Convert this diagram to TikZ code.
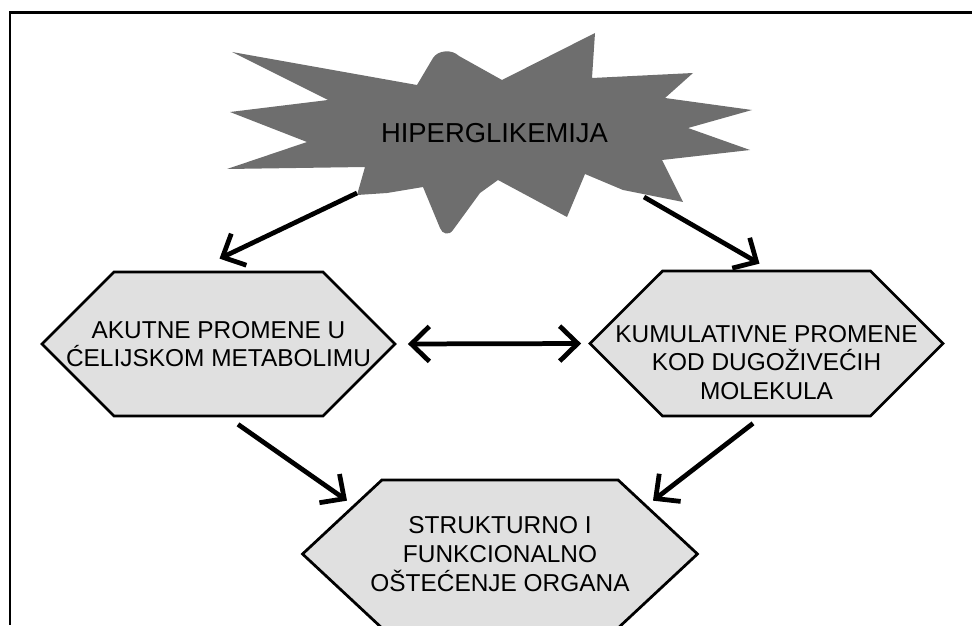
\documentclass[tikz,border=0pt]{standalone}
\usepackage{fontspec}
\setmainfont{Liberation Sans}
\usetikzlibrary{arrows.meta,positioning,shapes.symbols}
\definecolor{starfill}{gray}{0.43}
\definecolor{hexfill}{gray}{0.88}

\begin{document}
\begin{tikzpicture}[x=0.02cm, y=-0.02cm,
    >={Straight Barb[length=0.36cm,width=0.7cm]},
    every node/.style={font=\fontsize{13.9}{16.3}\selectfont},
    hexbox/.style={signal, signal to=west and east, draw, line width=0.055cm, fill=hexfill, inner sep=0pt},
    hextext/.style={align=center, inner sep=0pt},
    arr/.style={->, line width=0.095cm},
    burst/.style={fill=starfill}
  ]
  \useasboundingbox (0,0) rectangle (972,625);

  % outer frame (cut off on the right and at the bottom)
  \draw[line width=0.06cm] (972,13) -- (10,13) -- (10,625);

  % star burst behind the title
  \fill[burst] (232,52) -- (417,85) -- (433,58) .. controls (438,50) and (452,49) .. (459,56)
    -- (502,80) -- (595,33) -- (592,78) -- (693,73) -- (665,98) -- (752,110) -- (688,128)
    -- (750,150) -- (662,160) -- (683,202) -- (623,190) -- (585,174) -- (567,217)
    -- (498,180) -- (480,193) -- (453,230) .. controls (449,236) and (442,234) .. (440,228)
    -- (423,187) -- (387,193) -- (357,195) -- (365,167) -- (227,169) -- (307,142)
    -- (230,112) -- (328,100) -- cycle;
  \node[font=\fontsize{15.6}{18}\selectfont, inner sep=0pt] (hyper) at (494.5,133) {HIPERGLIKEMIJA};

  % the three hexagons
  \node[hexbox, minimum width=7.06cm, minimum height=2.88cm] (acute) at (218.5,344) {};
  \node[hextext] (acutetxt) at (acute.center) {AKUTNE PROMENE U\\ĆELIJSKOM METABOLIMU};

  \node[hexbox, minimum width=7.06cm, minimum height=2.9cm] (cumul) at (766.5,343.5) {};
  \node[hextext] (cumultxt) at ([yshift=-0.38cm]cumul.center) {KUMULATIVNE PROMENE\\KOD DUGOŽIVEĆIH\\MOLEKULA};

  \node[hexbox, minimum width=7.9cm, minimum height=2.96cm, signal pointer angle=86] (organ) at (500,554) {};
  \node[hextext] (organtxt) at (organ.center) {STRUKTURNO I\\FUNKCIONALNO\\OŠTEĆENJE ORGANA};

  % arrows
  \draw[arr] ([shift={(-137.5,60)}]hyper.center) -- ([shift={(1,-12)}]acute.north);
  \draw[arr] ([shift={(149.5,64)}]hyper.center) -- ([shift={(-7,-6)}]cumul.north);
  \draw[arr, <->, shorten <=0.22cm, shorten >=0.14cm] (acute.east) -- (cumul.west);
  \draw[arr] ([shift={(19.5,7)}]acute.south) -- ([shift={(-153,22)}]organ.north);
  \draw[arr] ([shift={(-13.5,6)}]cumul.south) -- ([shift={(153,22)}]organ.north);
\end{tikzpicture}
\end{document}
